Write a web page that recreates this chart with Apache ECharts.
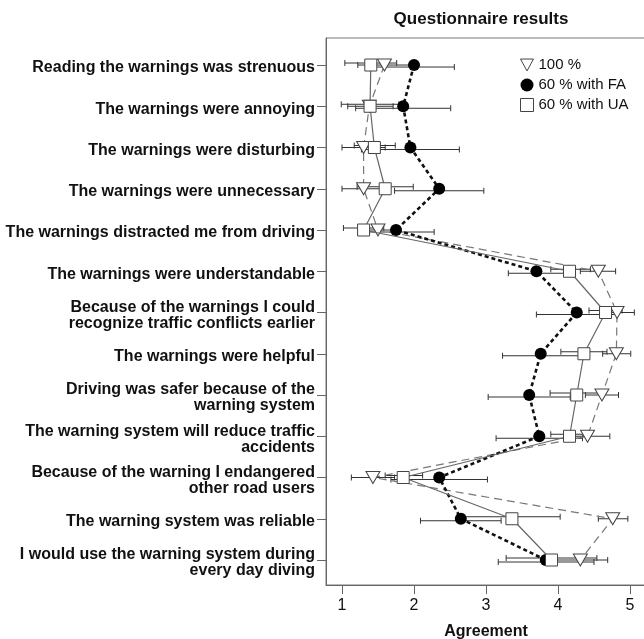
<!DOCTYPE html>
<html>
<head>
<meta charset="utf-8">
<script src="https://cdn.jsdelivr.net/npm/echarts@6/dist/echarts.min.js"></script>
<style>html,body{margin:0;padding:0;background:#fff}#c{width:644px;height:639px}</style>
</head>
<body>
<div id="c"></div>
<script>
const categories = [
  'Reading the warnings was strenuous',
  'The warnings were annoying',
  'The warnings were disturbing',
  'The warnings were unnecessary',
  'The warnings distracted me from driving',
  'The warnings were understandable',
  'Because of the warnings I could\nrecognize traffic conflicts earlier',
  'The warnings were helpful',
  'Driving was safer because of the\nwarning system',
  'The warning system will reduce traffic\naccidents',
  'Because of the warning I endangered\nother road users',
  'The warning system was reliable',
  'I would use the warning system during\nevery day diving'
];
const xTicks = [1, 2, 3, 4, 5];

const mean100 = [1.59, 1.38, 1.30, 1.30, 1.50, 4.56, 4.82, 4.81, 4.61, 4.41, 1.43, 4.76, 4.31];
const low100  = [1.22, 1.08, 1.00, 1.00, 1.25, 4.31, 4.58, 4.62, 4.38, 4.10, 1.13, 4.56, 3.93];
const high100 = [1.96, 1.71, 1.60, 1.60, 1.75, 4.80, 5.06, 5.01, 4.84, 4.72, 1.73, 4.97, 4.69];

const meanFA = [2.00, 1.85, 1.95, 2.35, 1.75, 3.70, 4.26, 3.76, 3.60, 3.74, 2.35, 2.65, 3.83];
const lowFA  = [1.44, 1.19, 1.27, 1.73, 1.22, 3.31, 3.70, 3.23, 3.03, 3.14, 1.68, 2.09, 3.17];
const highFA = [2.56, 2.51, 2.63, 2.97, 2.28, 4.09, 4.82, 4.29, 4.17, 4.34, 3.02, 3.21, 4.50];

const meanUA = [1.40, 1.39, 1.45, 1.60, 1.30, 4.16, 4.66, 4.36, 4.26, 4.16, 1.85, 3.36, 3.91];
const lowUA  = [1.04, 0.99, 1.17, 1.21, 1.02, 3.90, 4.43, 4.04, 3.89, 3.90, 1.60, 2.69, 3.28];
const highUA = [1.76, 1.79, 1.74, 1.99, 1.58, 4.45, 4.89, 4.68, 4.64, 4.42, 2.12, 4.03, 4.54];

const seriesNames = ['100 %', '60 % with FA', '60 % with UA'];

const rows = categories.map((_, i) => i);
const pts = (m) => m.map((v, i) => [v, i]);
const bars = (lo, hi) => lo.map((v, i) => [v, hi[i], i]);

function errRender(offset) {
  return function (params, api) {
    const a = api.coord([api.value(0), api.value(2)]);
    const b = api.coord([api.value(1), api.value(2)]);
    const y = a[1] + offset;
    const cap = 3;
    const st = { stroke: '#333', lineWidth: 1 };
    return {
      type: 'group',
      children: [
        { type: 'line', shape: { x1: a[0], y1: y, x2: b[0], y2: y }, style: st },
        { type: 'line', shape: { x1: a[0], y1: y - cap, x2: a[0], y2: y + cap }, style: st },
        { type: 'line', shape: { x1: b[0], y1: y - cap, x2: b[0], y2: y + cap }, style: st }
      ]
    };
  };
}

const FONT = 'Liberation Sans, Arial, sans-serif';
const chart = echarts.init(document.getElementById('c'), null, { renderer: 'canvas' });
const triDown = 'path://M0,0 L12,0 L6,11 Z';
const Y_MIN = -0.655, Y_MAX = 12.606, LABEL_SHIFT = 0.073;

chart.setOption({
  animation: false,
  backgroundColor: '#fff',
  title: {
    text: 'Questionnaire results',
    left: 476, top: 6, textAlign: 'center',
    textStyle: { fontFamily: FONT, fontWeight: 'bold', fontSize: 17, color: '#111' }
  },
  legend: {
    orient: 'vertical',
    left: 520, top: 57, padding: 0,
    itemWidth: 13, itemHeight: 13, itemGap: 4,
    textStyle: { fontFamily: FONT, fontSize: 15, lineHeight: 16, color: '#111' },
    data: [
      { name: seriesNames[0], icon: triDown, itemStyle: { color: '#fff', borderColor: '#444', borderWidth: 1 } },
      { name: seriesNames[1], icon: 'circle', itemStyle: { color: '#000', borderColor: '#000', borderWidth: 0 } },
      { name: seriesNames[2], icon: 'rect', itemStyle: { color: '#fff', borderColor: '#444', borderWidth: 1 } }
    ]
  },
  grid: {
    left: 326, right: -2, top: 38, bottom: 54,
    outerBoundsMode: 'none', containLabel: false,
    show: true, borderColor: '#777', borderWidth: 1, backgroundColor: 'transparent'
  },
  xAxis: {
    type: 'value',
    min: 0.778, max: 5.222,
    name: 'Agreement', nameLocation: 'middle', nameGap: 39,
    nameTextStyle: { fontFamily: FONT, fontWeight: 'bold', fontSize: 16, color: '#111' },
    axisLine: { show: true, onZero: false, lineStyle: { color: '#666', width: 1 } },
    axisTick: { show: true, length: 9, customValues: xTicks, lineStyle: { color: '#666' } },
    axisLabel: { customValues: xTicks, margin: 13, fontFamily: FONT, fontSize: 16, color: '#111' },
    splitLine: { show: false }
  },
  yAxis: [
    {
      type: 'value',
      inverse: true,
      min: Y_MIN, max: Y_MAX,
      axisLine: { show: true, onZero: false, lineStyle: { color: '#666', width: 1 } },
      axisTick: { show: true, length: 9, customValues: rows, lineStyle: { color: '#666' } },
      axisLabel: { show: false },
      splitLine: { show: false }
    },
    {
      type: 'value',
      inverse: true,
      position: 'left',
      min: Y_MIN - LABEL_SHIFT, max: Y_MAX - LABEL_SHIFT,
      axisLine: { show: false, onZero: false },
      axisTick: { show: false },
      axisLabel: {
        customValues: rows,
        margin: 11,
        formatter: (v) => categories[Math.round(v)] || '',
        fontFamily: FONT, fontWeight: 'bold', fontSize: 16, color: '#111',
        lineHeight: 16, align: 'right'
      },
      splitLine: { show: false }
    }
  ],
  series: [
    { type: 'custom', name: 'err100', data: bars(low100, high100), renderItem: errRender(0), encode: { x: [0, 1], y: 2 }, z: 1, silent: true },
    { type: 'custom', name: 'errFA', data: bars(lowFA, highFA), renderItem: errRender(2), encode: { x: [0, 1], y: 2 }, z: 1, silent: true },
    { type: 'custom', name: 'errUA', data: bars(lowUA, highUA), renderItem: errRender(-2), encode: { x: [0, 1], y: 2 }, z: 1, silent: true },
    {
      name: seriesNames[0], type: 'line', data: pts(mean100), z: 3,
      symbol: triDown, symbolSize: [14, 12], symbolKeepAspect: false,
      lineStyle: { color: '#777', width: 1.2, type: [8, 5] },
      itemStyle: { color: '#fff', borderColor: '#444', borderWidth: 1 }
    },
    {
      name: seriesNames[1], type: 'line', data: pts(meanFA), z: 4,
      symbol: 'circle', symbolSize: 12,
      lineStyle: { color: '#111', width: 2.6, type: [4, 3] },
      itemStyle: { color: '#000', borderColor: '#000', borderWidth: 0 }
    },
    {
      name: seriesNames[2], type: 'line', data: pts(meanUA), z: 5,
      symbol: 'rect', symbolSize: 12,
      lineStyle: { color: '#666', width: 1.2, type: 'solid' },
      itemStyle: { color: '#fff', borderColor: '#444', borderWidth: 1 }
    }
  ]
});
</script>
</body>
</html>
